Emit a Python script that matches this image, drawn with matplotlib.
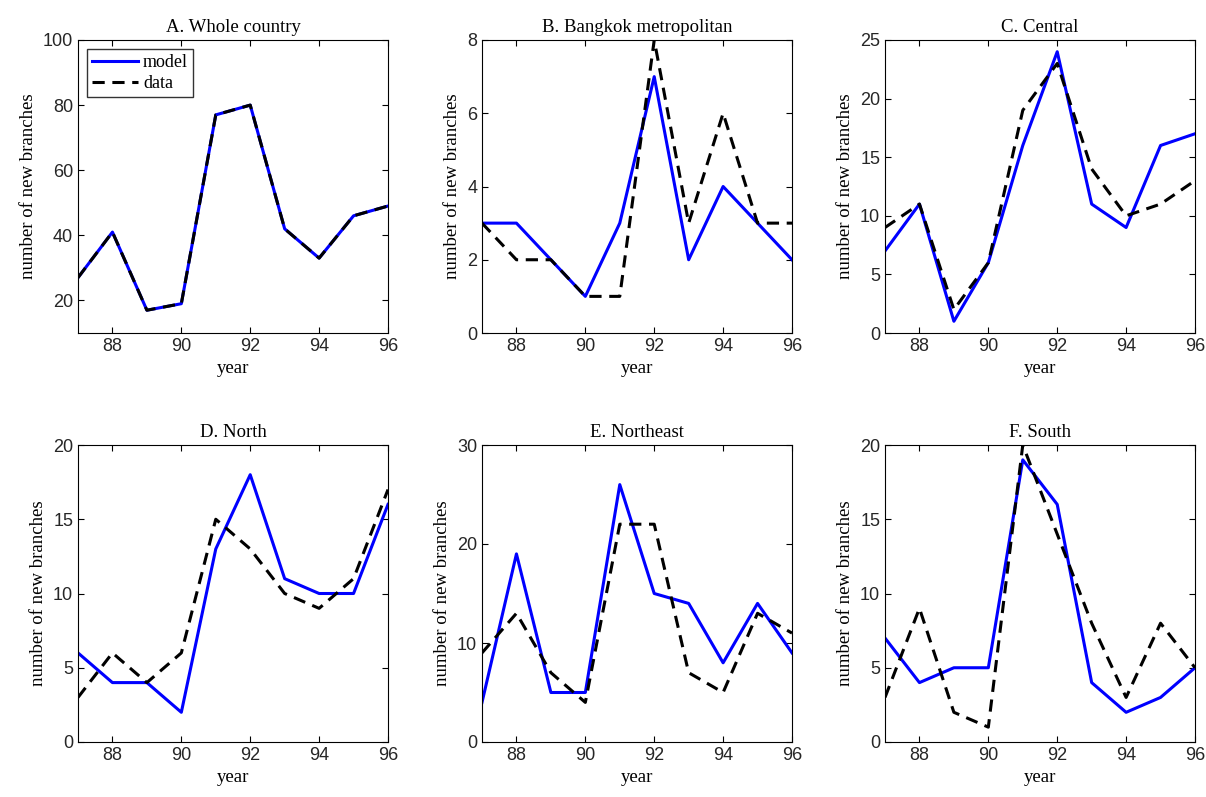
import matplotlib.pyplot as plt

years = [87, 88, 89, 90, 91, 92, 93, 94, 95, 96]

titles = ['A. Whole country', 'B. Bangkok metropolitan', 'C. Central',
          'D. North', 'E. Northeast', 'F. South']

model = [
    [27, 41, 17, 19, 77, 80, 42, 33, 46, 49],
    [3, 3, 2, 1, 3, 7, 2, 4, 3, 2],
    [7, 11, 1, 6, 16, 24, 11, 9, 16, 17],
    [6, 4, 4, 2, 13, 18, 11, 10, 10, 16],
    [4, 19, 5, 5, 26, 15, 14, 8, 14, 9],
    [7, 4, 5, 5, 19, 16, 4, 2, 3, 5],
]
data = [
    [27, 41, 17, 19, 77, 80, 42, 33, 46, 49],
    [3, 2, 2, 1, 1, 8, 3, 6, 3, 3],
    [9, 11, 2, 6, 19, 23, 14, 10, 11, 13],
    [3, 6, 4, 6, 15, 13, 10, 9, 11, 17],
    [9, 13, 7, 4, 22, 22, 7, 5, 13, 11],
    [3, 9, 2, 1, 20, 14, 8, 3, 8, 5],
]
ylims = [(10, 100), (0, 8), (0, 25), (0, 20), (0, 30), (0, 20)]
yticks = [[20, 40, 60, 80, 100], [0, 2, 4, 6, 8], [0, 5, 10, 15, 20, 25],
          [0, 5, 10, 15, 20], [0, 10, 20, 30], [0, 5, 10, 15, 20]]

serif = 'Liberation Serif'
sans = 'Liberation Sans'

fig = plt.figure(figsize=(12.06, 7.97), dpi=100)
W, H = 1206, 797
lefts = [78, 482, 885]
width = 310
tops = [40, 445]
bottoms = [333, 742]

for i in range(6):
    r, c = divmod(i, 3)
    ax = fig.add_axes([lefts[c] / W, 1 - bottoms[r] / H, width / W, (bottoms[r] - tops[r]) / H])
    ax.plot(years, model[i], color='#0000ff', lw=2.2, label='model')
    ax.plot(years, data[i], color='black', lw=2.2, ls=(0, (4, 2.5)), label='data')
    ax.set_xlim(87, 96)
    ax.set_ylim(*ylims[i])
    ax.set_xticks([88, 90, 92, 94, 96])
    ax.set_yticks(yticks[i])
    for lab in ax.get_xticklabels() + ax.get_yticklabels():
        lab.set_family(sans)
        lab.set_fontsize(13)
        lab.set_color('#262626')
    ax.tick_params(direction='in', length=4, top=True, right=True)
    ax.set_title(titles[i], family=serif, fontsize=13.5, pad=6)
    ax.set_xlabel('year', family=serif, fontsize=13.5)
    ax.set_ylabel('number of new branches', family=serif, fontsize=13.5)
    if i == 0:
        ax.legend(loc='upper left', prop={'family': serif, 'size': 13},
                  fancybox=False, edgecolor='black', handlelength=2.5,
                  borderpad=0.3, labelspacing=0.2, handletextpad=0.3)

fig.savefig('out.png', dpi=100)
